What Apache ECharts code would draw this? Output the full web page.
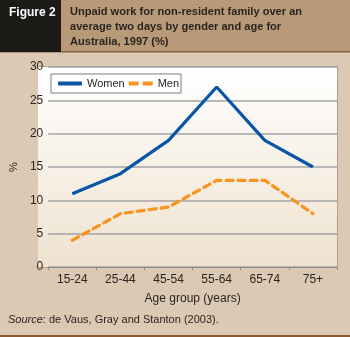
<!DOCTYPE html>
<html><head><meta charset="utf-8">
<script src="https://cdn.jsdelivr.net/npm/echarts@6/dist/echarts.min.js"></script>
<style>html,body{margin:0;padding:0;background:#dbc9b3;}#c{width:350px;height:337px;}</style>
</head><body><div id="c"></div>
<script>
const categories = ['15-24','25-44','45-54','55-64','65-74','75+'];
const women = [11, 14, 19, 27, 19, 15];
const men = [4, 8, 9, 13, 13, 8];
const yTicks = [0, 5, 10, 15, 20, 25, 30];
const titleLines = ['Unpaid work for non-resident family over an', 'average two days by gender and age for', 'Australia, 1997 (%)'];

const F = '"Liberation Sans",Arial,sans-serif';
const cv = document.createElement('canvas').getContext('2d');
cv.font = 'bold 100px ' + F;
const titleSize = Math.min(14, 100*232/cv.measureText(titleLines[0]).width);

const chart = echarts.init(document.getElementById('c'), null, {renderer:'canvas'});
chart.setOption({
  animation: false,
  backgroundColor: '#dbc9b3',
  textStyle: {fontFamily: F},
  graphic: [
    {type:'rect', shape:{x:0,y:0,width:350,height:51}, style:{fill:'#b99a78'}, z:-5},
    {type:'rect', shape:{x:0,y:51,width:350,height:1.5}, style:{fill:'#8a6440'}, z:-5},
    {type:'rect', shape:{x:0,y:0,width:61,height:52}, style:{fill:'#1c1a17'}, z:-4},
    {type:'rect', shape:{x:0,y:335,width:350,height:2}, style:{fill:'#8a5a2e'}, z:-5},
    {type:'rect', shape:{x:39,y:66,width:299,height:202}, style:{fill:'#a9a29a'}, z:-5},
    {type:'rect', shape:{x:38,y:67,width:299,height:200}, z:-4,
      style:{fill:{type:'linear', x:0, y:0, x2:0, y2:1, colorStops:[{offset:0,color:'#ffffff'},{offset:1,color:'#efe2cf'}]}}},
    {type:'text', left:9, top:7, style:{text:'Figure 2', fill:'#ffffff', font:'bold 12px '+F}, z:2},
    {type:'text', left:70, top:4, style:{text:titleLines.join('\n'), fill:'#2a2420', font:'bold '+titleSize.toFixed(2)+'px '+F, lineHeight:15}, z:2},
    {type:'text', left:8, top:314, style:{rich:{i:{fontStyle:'italic',fontSize:11,fontFamily:F,fill:'#2a2420'},n:{fontSize:11,fontFamily:F,fill:'#2a2420'}}, text:'{i|Source}{n|: de Vaus, Gray and Stanton (2003).}'}, z:2},
    {type:'rect', shape:{x:51,y:74,width:130,height:19}, style:{fill:'#ffffff', stroke:'#7d7d7d', lineWidth:1}, z:5}
  ],
  legend: {
    left: 58, top: 78, padding: 0, itemWidth: 24, itemHeight: 4, itemGap: 4, z: 6,
    textStyle: {fontSize: 11, color:'#2a2420', fontFamily: F},
    data: [{name:'Women', icon:'roundRect'}, {name:'Men', icon:'path://M0,0h10v4h-10z M14,0h10v4h-10z'}]
  },
  grid: {left: 38, right: 13, top: 67, bottom: 70},
  xAxis: {
    type:'category', data: categories, boundaryGap: true,
    name: 'Age group (years)', nameLocation:'middle', nameGap: 26,
    nameTextStyle: {fontSize: 12, color:'#2a2420', fontFamily: F},
    axisLine: {show: true, lineStyle:{color:'#8c8c8c', width:1}},
    axisTick: {show: true, length: 3, lineStyle:{color:'#8c8c8c'}},
    axisLabel: {fontSize: 12, color:'#2a2420', margin: 7, fontFamily: F}
  },
  yAxis: {
    type:'value', min: yTicks[0], max: yTicks[yTicks.length-1], interval: 5,
    name: '%', nameLocation:'middle', nameGap: 23, nameRotate: 90,
    nameTextStyle: {fontSize: 11, color:'#2a2420', fontFamily: F},
    axisLine: {show:false}, axisTick:{show:false},
    axisLabel: {fontSize: 12, color:'#2a2420', margin: 5, fontFamily: F},
    splitLine: {show: true, lineStyle:{color:'#a3a3a3', width:1.5}}
  },
  series: [
    {name:'Women', type:'line', data: women, symbol:'none', z:3,
     lineStyle:{color:'#0a55a6', width:3.2}, itemStyle:{color:'#0a55a6'}},
    {name:'Men', type:'line', data: men, symbol:'none', z:3,
     lineStyle:{color:'#f7931e', width:3.2, type:[7,5], cap:'round'}, itemStyle:{color:'#f7931e'}}
  ]
});
</script></body></html>
